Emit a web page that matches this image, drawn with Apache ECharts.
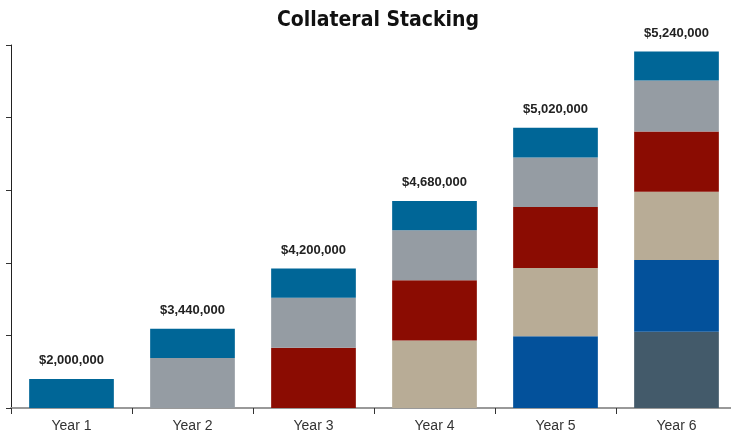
<!DOCTYPE html>
<html>
<head>
<meta charset="utf-8">
<script src="https://cdn.jsdelivr.net/npm/echarts@6/dist/echarts.min.js"></script>
<style>
html,body{margin:0;padding:0;background:#fff;}
#chart{width:731px;height:436px;}
</style>
</head>
<body>
<div id="chart"></div>
<script>
const categories = ['Year 1', 'Year 2', 'Year 3', 'Year 4', 'Year 5', 'Year 6'];
const totalLabels = ['$2,000,000', '$3,440,000', '$4,200,000', '$4,680,000', '$5,020,000', '$5,240,000'];
// stacked layers, bottom to top (axis units: 1 tick = 1)
const layerSlate = [null, null, null, null, null, 1.05];
const layerBlue  = [null, null, null, null, 0.99, 0.99];
const layerTan   = [null, null, null, 0.93, 0.94, 0.94];
const layerRed   = [null, null, 0.83, 0.83, 0.84, 0.83];
const layerGray  = [null, 0.69, 0.69, 0.69, 0.68, 0.70];
const layerTeal  = [0.40, 0.40, 0.40, 0.40, 0.41, 0.40];
const yTicks = [0, 1, 2, 3, 4, 5];

const layers = [
  {name: 'Slate', data: layerSlate, color: '#435A6A'},
  {name: 'Blue', data: layerBlue, color: '#03519B'},
  {name: 'Tan', data: layerTan, color: '#B8AC96'},
  {name: 'Red', data: layerRed, color: '#8B0C02'},
  {name: 'Gray', data: layerGray, color: '#959CA3'},
  {name: 'Teal', data: layerTeal, color: '#006697'}
];

const chart = echarts.init(document.getElementById('chart'), null, {renderer: 'canvas'});
const series = layers.map((l, i) => ({
  name: l.name,
  type: 'bar',
  stack: 'total',
  data: l.data,
  barWidth: '70%',
  itemStyle: {color: l.color},
  animation: false,
  label: i === layers.length - 1 ? {
    show: true,
    position: 'top',
    distance: 12,
    formatter: p => totalLabels[p.dataIndex],
    fontFamily: '"Liberation Sans", Arial, sans-serif',
    fontWeight: 'bold',
    fontSize: 13,
    color: '#222'
  } : {show: false}
}));

chart.setOption({
  animation: false,
  title: {
    text: 'Collateral Stacking',
    left: 373,
    top: 5,
    textAlign: 'center',
    textStyle: {
      fontFamily: '"Liberation Sans Narrow", "DejaVu Sans Condensed", sans-serif',
      fontWeight: 'bold',
      fontSize: 21,
      color: '#111'
    }
  },
  grid: {left: 11, right: -6, top: 45, bottom: 28, containLabel: false, outerBoundsMode: 'none'},
  xAxis: {
    type: 'category',
    data: categories,
    axisLine: {show: true, lineStyle: {color: '#999', width: 2}},
    axisTick: {show: true, length: 6, lineStyle: {color: '#333', width: 1}},
    axisLabel: {
      fontFamily: '"Liberation Sans", Arial, sans-serif',
      fontSize: 14,
      color: '#333',
      margin: 11
    }
  },
  yAxis: {
    type: 'value',
    min: yTicks[0],
    max: yTicks[yTicks.length - 1],
    interval: 1,
    axisLine: {show: true, lineStyle: {color: '#222', width: 1}},
    axisTick: {show: true, length: 5, lineStyle: {color: '#333'}},
    axisLabel: {show: false},
    splitLine: {show: false}
  },
  series: series
});
</script>
</body>
</html>
